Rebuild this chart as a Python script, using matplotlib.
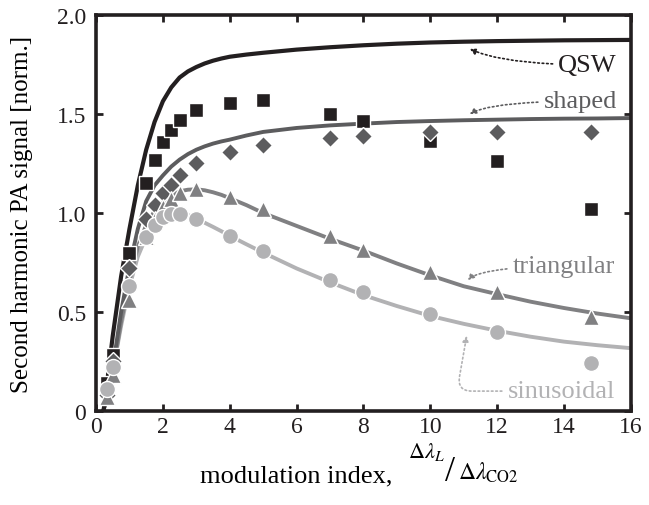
import matplotlib
matplotlib.use('Agg')
import matplotlib.pyplot as plt

plt.rcParams['font.family'] = ['Liberation Serif', 'DejaVu Serif']
plt.rcParams['mathtext.fontset'] = 'stix'

# measured modulation indices
x_pts = [0.33, 0.5, 1.0, 1.5, 1.75, 2.0, 2.25, 2.5, 3, 4, 5, 7, 8, 10, 12, 14.8]
qsw_pts = [0.14, 0.28, 0.80, 1.15, 1.27, 1.36, 1.42, 1.47, 1.52, 1.555, 1.57, 1.50, 1.465, 1.365, 1.265, 1.02]
shaped_pts = [0.08, 0.25, 0.72, 0.97, 1.04, 1.10, 1.14, 1.19, 1.255, 1.31, 1.345, 1.38, 1.39, 1.41, 1.41, 1.41]
tri_pts = [0.07, 0.18, 0.56, 0.88, 0.97, 1.03, 1.07, 1.10, 1.12, 1.08, 1.02, 0.885, 0.815, 0.70, 0.60, 0.475]
sin_pts = [0.11, 0.22, 0.63, 0.88, 0.94, 0.98, 0.995, 0.995, 0.97, 0.885, 0.81, 0.66, 0.60, 0.49, 0.40, 0.24]

# model curves
x_fit = [0.22, 0.25, 0.5, 0.75, 1.0, 1.25, 1.5, 1.75, 2.0, 2.25, 2.5, 2.75, 3, 3.25, 3.5, 3.75, 4, 4.5, 5,
         6, 7, 8, 9, 10, 11, 12, 13, 14, 15, 16]
qsw_fit = [0.0, 0.03, 0.38, 0.68, 0.92, 1.14, 1.32, 1.46, 1.565, 1.635, 1.685, 1.716, 1.738, 1.756, 1.77, 1.781, 1.79, 1.801, 1.81,
           1.826, 1.838, 1.848, 1.856, 1.862, 1.866, 1.869, 1.871, 1.873, 1.874, 1.875]
shaped_fit = [0.0, 0.02, 0.22, 0.5, 0.73, 0.92, 1.06, 1.14, 1.19, 1.235, 1.27, 1.298, 1.32, 1.337, 1.351, 1.362, 1.371, 1.392, 1.41,
              1.43, 1.443, 1.452, 1.46, 1.465, 1.469, 1.472, 1.475, 1.477, 1.478, 1.48]
tri_fit = [0.0, 0.02, 0.2, 0.45, 0.66, 0.83, 0.94, 1.01, 1.055, 1.09, 1.11, 1.118, 1.12, 1.115, 1.105, 1.092, 1.075, 1.04, 1.0,
           0.935, 0.87, 0.81, 0.745, 0.685, 0.63, 0.59, 0.552, 0.52, 0.492, 0.468]
sin_fit = [0.0, 0.02, 0.2, 0.43, 0.63, 0.78, 0.88, 0.945, 0.985, 1.0, 1.0, 0.99, 0.97, 0.951, 0.93, 0.908, 0.885, 0.842, 0.80,
           0.72, 0.65, 0.585, 0.53, 0.48, 0.44, 0.405, 0.375, 0.35, 0.332, 0.317]

c_qsw = '#231f20'
c_shaped = '#5c5c5e'
c_tri = '#808082'
c_sin = '#b2b2b4'

fig = plt.figure(figsize=(6.49, 5.06), dpi=100)
ax = fig.add_axes([0.148, 0.186, 0.824, 0.782])

ax.plot(x_fit, sin_fit, color=c_sin, lw=2.8, zorder=2, solid_capstyle='butt')
ax.plot(x_fit, tri_fit, color=c_tri, lw=2.8, zorder=2, solid_capstyle='butt')
ax.plot(x_fit, shaped_fit, color=c_shaped, lw=2.8, zorder=2, solid_capstyle='butt')
ax.plot(x_fit, qsw_fit, color=c_qsw, lw=3.0, zorder=2, solid_capstyle='butt')

mk = dict(linestyle='none', markeredgecolor='white', markeredgewidth=1.0, zorder=3)
ax.plot(x_pts, qsw_pts, marker='s', markersize=10, color=c_qsw, **mk)
ax.plot(x_pts, shaped_pts, marker='D', markersize=9.0, color=c_shaped, **mk)
ax.plot(x_pts, tri_pts, marker='^', markersize=11.5, color=c_tri, **mk)
ax.plot(x_pts, sin_pts, marker='o', markersize=11.5, color=c_sin, **mk)

ax.set_xlim(0, 16)
ax.set_ylim(0, 2.0)
ax.set_xticks(range(0, 17, 2))
ax.set_yticks([0, 0.5, 1.0, 1.5, 2.0])
ax.set_yticklabels(['0', '0.5', '1.0', '1.5', '2.0'])
ax.tick_params(direction='in', length=5, width=2, top=True, right=True,
               labelsize=17, colors='#231f20')
ax.tick_params(axis='x', pad=4)
ax.tick_params(axis='y', pad=7)
for s in ax.spines.values():
    s.set_linewidth(2.6)
    s.set_color('#231f20')

ax.set_ylabel('Second harmonic PA signal [norm.]', fontsize=18)
ax.yaxis.set_label_coords(-0.118, 0.5)

# annotations
arr = dict(arrowstyle='-|>', linestyle=':', lw=1.2, mutation_scale=9, shrinkA=2, shrinkB=0)
ax.annotate('QSW', xy=(11.18, 1.83), xytext=(15.58, 1.75), fontsize=19, color=c_qsw,
            ha='right', va='center',
            arrowprops=dict(arr, color=c_qsw, connectionstyle='angle3,angleA=0,angleB=-25'))
ax.annotate('shaped', xy=(11.18, 1.50), xytext=(15.58, 1.565), fontsize=19, color=c_shaped,
            ha='right', va='center',
            arrowprops=dict(arr, color=c_shaped, connectionstyle='angle3,angleA=0,angleB=30'))
ax.annotate('triangular', xy=(11.12, 0.66), xytext=(15.52, 0.73), fontsize=19, color=c_tri,
            ha='right', va='center',
            arrowprops=dict(arr, color=c_tri, connectionstyle='angle3,angleA=0,angleB=45'))
ax.annotate('sinusoidal', xy=(11.09, 0.38), xytext=(15.52, 0.10), fontsize=19, color=c_sin,
            ha='right', va='center',
            arrowprops=dict(arr, color=c_sin, connectionstyle='angle,angleA=0,angleB=80,rad=15'))

# x label with stacked fraction
fig.text(0.308, 0.047, 'modulation index,', fontsize=19, ha='left', va='baseline')
fig.text(0.628, 0.095, r'$\Delta\lambda_{L}$', fontsize=16, ha='left', va='baseline')
fig.text(0.685, 0.049, '/', fontsize=26, ha='left', va='baseline')
fig.text(0.706, 0.051, r'$\Delta\lambda_{\mathrm{CO2}}$', fontsize=17, ha='left', va='baseline')

fig.savefig('out.png', dpi=100)
